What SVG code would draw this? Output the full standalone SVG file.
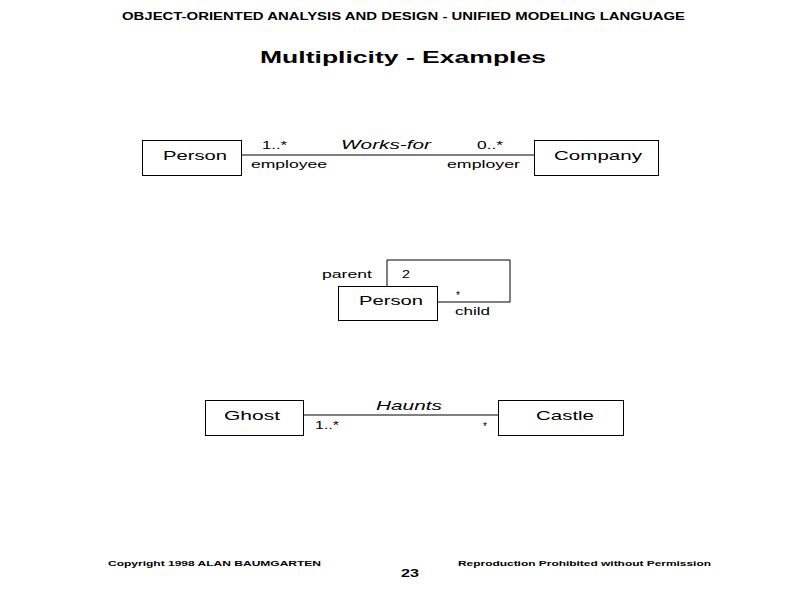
<svg xmlns="http://www.w3.org/2000/svg" width="800" height="600" viewBox="0 0 800 600">
<style>
text{font-family:"Liberation Sans",Arial,sans-serif;fill:#000}
.box{fill:#fff;stroke:#000;stroke-width:1}
.ln{fill:none;stroke:#000;stroke-width:1}
.cls{font-size:13px}
.sm{font-size:10px}
.it{font-size:13px;font-style:italic}
.hd{font-size:10px;font-weight:bold}
.ft{font-size:8px;font-weight:bold}
</style>
<rect width="800" height="600" fill="#fff"/>
<text class="hd" x="122" y="20" textLength="563" lengthAdjust="spacingAndGlyphs">OBJECT-ORIENTED ANALYSIS AND DESIGN - UNIFIED MODELING LANGUAGE</text>
<text x="260" y="63" font-size="17" font-weight="bold" textLength="286" lengthAdjust="spacingAndGlyphs">Multiplicity - Examples</text>

<g id="connectors">
<line class="ln" x1="241" y1="155" x2="534" y2="155"/>
<polyline class="ln" points="387,286 387,260 510,260 510,302 437,302"/>
<line class="ln" x1="303" y1="415" x2="498" y2="415"/>
</g>

<g id="labels">
<text class="sm" x="262" y="149" textLength="25" lengthAdjust="spacingAndGlyphs">1..*</text>
<text class="it" x="341" y="149" textLength="90" lengthAdjust="spacingAndGlyphs">Works-for</text>
<text class="sm" x="477" y="149" textLength="26" lengthAdjust="spacingAndGlyphs">0..*</text>
<text class="sm" x="251" y="168" textLength="76" lengthAdjust="spacingAndGlyphs">employee</text>
<text class="sm" x="447" y="168" textLength="73" lengthAdjust="spacingAndGlyphs">employer</text>
<text class="sm" x="322" y="278" textLength="50" lengthAdjust="spacingAndGlyphs">parent</text>
<text class="sm" x="402" y="278" textLength="8" lengthAdjust="spacingAndGlyphs">2</text>
<text class="sm" x="456" y="299">*</text>
<text class="sm" x="455" y="315" textLength="35" lengthAdjust="spacingAndGlyphs">child</text>
<text class="it" x="376" y="410" textLength="66" lengthAdjust="spacingAndGlyphs">Haunts</text>
<text class="sm" x="315" y="429" textLength="24" lengthAdjust="spacingAndGlyphs">1..*</text>
<text class="sm" x="483" y="430">*</text>
</g>

<g id="person1">
<rect class="box" x="142.5" y="140.5" width="99" height="35"/>
<text class="cls" x="163" y="160" textLength="64" lengthAdjust="spacingAndGlyphs">Person</text>
</g>
<g id="company">
<rect class="box" x="534.5" y="140.5" width="124" height="35"/>
<text class="cls" x="554" y="160" textLength="88" lengthAdjust="spacingAndGlyphs">Company</text>
</g>
<g id="person2">
<rect class="box" x="338.5" y="286.5" width="99" height="34"/>
<text class="cls" x="359" y="305" textLength="64" lengthAdjust="spacingAndGlyphs">Person</text>
</g>
<g id="ghost">
<rect class="box" x="205.5" y="400.5" width="98" height="35"/>
<text class="cls" x="224" y="420" textLength="56" lengthAdjust="spacingAndGlyphs">Ghost</text>
</g>
<g id="castle">
<rect class="box" x="498.5" y="400.5" width="125" height="35"/>
<text class="cls" x="536" y="420" textLength="58" lengthAdjust="spacingAndGlyphs">Castle</text>
</g>

<text class="ft" x="108" y="566" textLength="213" lengthAdjust="spacingAndGlyphs">Copyright 1998  ALAN BAUMGARTEN</text>
<text class="ft" x="458" y="566" textLength="253" lengthAdjust="spacingAndGlyphs">Reproduction Prohibited without Permission</text>
<text x="401" y="577" font-size="11" font-weight="bold" textLength="18" lengthAdjust="spacingAndGlyphs">23</text>
</svg>
